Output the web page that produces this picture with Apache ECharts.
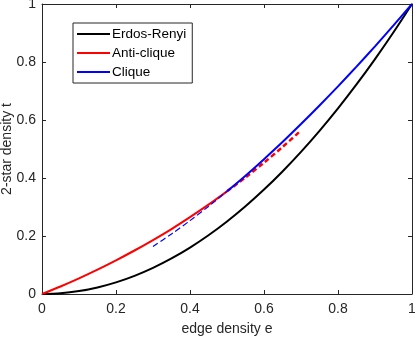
<!DOCTYPE html>
<html><head><meta charset="utf-8">
<script src="https://cdn.jsdelivr.net/npm/echarts@6/dist/echarts.min.js"></script>
<style>html,body{margin:0;padding:0;background:#fff}#c{width:415px;height:337px}</style>
</head><body><div id="c"></div>
<script>
var eValues = [0,0.05,0.1,0.15,0.2,0.25,0.3,0.35,0.4,0.45,0.5,0.55,0.6,0.65,0.7,0.75,0.8,0.85,0.9,0.95,1];
var erdosRenyi = [0,0.0025,0.01,0.0225,0.04,0.0625,0.09,0.1225,0.16,0.2025,0.25,0.3025,0.36,0.4225,0.49,0.5625,0.64,0.7225,0.81,0.9025,1];
// anti-clique for e = 0 .. 0.7
var antiClique = [0,0.026,0.054,0.084,0.116,0.150,0.186,0.224,0.265,0.308,0.354,0.402,0.453,0.507,0.564];
// clique for e = 0.3 .. 1
var cliqueE = [0.3,0.35,0.4,0.45,0.5,0.55,0.6,0.65,0.7,0.75,0.8,0.85,0.9,0.95,1];
var clique = [0.164,0.207,0.253,0.302,0.354,0.408,0.465,0.524,0.586,0.650,0.716,0.784,0.854,0.926,1];
var xTicks = [0,0.2,0.4,0.6,0.8,1];
var yTicks = [0,0.2,0.4,0.6,0.8,1];

function pairs(xs, ys, lo, hi){
  var out=[];
  for(var i=0;i<ys.length;i++){ if(xs[i]>=lo-1e-9 && xs[i]<=hi+1e-9) out.push([xs[i],ys[i]]); }
  return out;
}
var txt='#262626';
var fnt='Liberation Sans, Arial, Helvetica, sans-serif';
function fmt(v){ return (Math.abs(v)<1e-9)?'0':(Math.abs(v-1)<1e-9?'1':String(Math.round(v*10)/10)); }
var chart = echarts.init(document.getElementById('c'), null, {renderer:'canvas'});
var axisCommon = {
  min:0,max:1,interval:0.2,
  axisLine:{show:true,onZero:false,lineStyle:{color:txt,width:1}},
  axisTick:{show:true,inside:true,length:4,lineStyle:{color:txt,width:1}},
  splitLine:{show:false}
};
chart.setOption({
  animation:false,
  backgroundColor:'#fff',
  grid:{left:42,right:3,top:4,bottom:43,containLabel:false,outerBoundsMode:'none'},
  legend:{
    data:[{name:'Erdos-Renyi',icon:'rect'},{name:'Anti-clique',icon:'rect'},{name:'Clique',icon:'rect'}],
    orient:'vertical', left:73, top:23,
    itemWidth:33, itemHeight:2, itemGap:3,
    padding:[3,6,3,4],
    borderColor:txt, borderWidth:1, backgroundColor:'#fff', borderRadius:0,
    textStyle:{fontFamily:fnt,fontSize:13.5,color:'#000',padding:[0,0,0,-3],lineHeight:16}
  },
  xAxis:[
    Object.assign({type:'value',position:'bottom',name:'edge density e',nameLocation:'middle',nameGap:28,nameMoveOverlap:false,
      nameTextStyle:{fontFamily:fnt,fontSize:14,color:txt},
      axisLabel:{fontFamily:fnt,fontSize:14,color:txt,margin:8,formatter:fmt}},axisCommon),
    Object.assign({type:'value',position:'top',axisLabel:{show:false}},axisCommon)
  ],
  yAxis:[
    Object.assign({type:'value',position:'left',name:'2-star density t',nameLocation:'middle',nameGap:35,nameMoveOverlap:false,
      nameTextStyle:{fontFamily:fnt,fontSize:14,color:txt,verticalAlign:'middle'},
      axisLabel:{fontFamily:fnt,fontSize:14,color:txt,margin:6,formatter:fmt}},axisCommon),
    Object.assign({type:'value',position:'right',axisLabel:{show:false}},axisCommon)
  ],
  series:[
    {name:'Erdos-Renyi',type:'line',symbol:'none',smooth:0.3,data:pairs(eValues,erdosRenyi,0,1),
      lineStyle:{color:'#000',width:2},itemStyle:{color:'#000'},z:3},
    {name:'Anti-clique',type:'line',symbol:'none',smooth:0.3,data:pairs(eValues,antiClique,0,0.5),
      lineStyle:{color:'#ff0000',width:2},itemStyle:{color:'#ff0000'},z:4},
    {name:'Anti-clique dashed',type:'line',symbol:'none',smooth:0.3,data:pairs(eValues,antiClique,0.5,0.7),
      lineStyle:{color:'#ff0000',width:2.5,type:[5,3]},z:4},
    {name:'Clique',type:'line',symbol:'none',smooth:0.3,data:pairs(cliqueE,clique,0.5,1),
      lineStyle:{color:'#0000ff',width:2},itemStyle:{color:'#0000ff'},z:5},
    {name:'Clique dashed',type:'line',symbol:'none',smooth:0.3,data:pairs(cliqueE,clique,0.3,0.5),
      lineStyle:{color:'#0000ff',width:1.2,type:[6,3]},z:5}
  ]
});
</script></body></html>
